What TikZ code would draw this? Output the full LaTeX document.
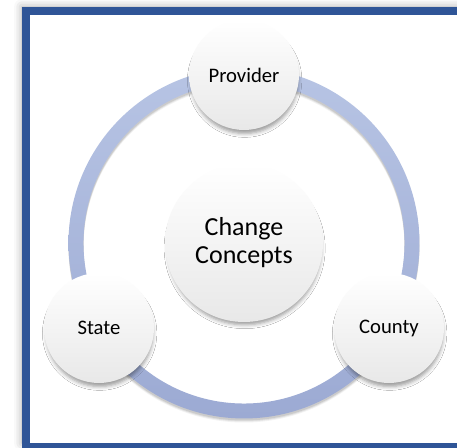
\documentclass[tikz,border=0pt]{standalone}
\usepackage{fontspec}
\setmainfont{Carlito}
\usetikzlibrary{calc,shadows.blur}
\definecolor{framecol}{HTML}{2F5597}
\definecolor{ringtop}{HTML}{B7C4E4}
\definecolor{ringbot}{HTML}{9CAAD3}
\begin{document}
\begin{tikzpicture}[x=0.75pt, y=-0.75pt,
		ball/.style={circle, inner sep=0pt, align=center, top color=white, bottom color=black!9,
			blur shadow={shadow xshift=0.5pt, shadow yshift=-4pt, shadow scale=0.97, shadow blur radius=3pt, shadow opacity=40}},
		actor/.style={ball, minimum size=82.5pt, font=\fontsize{15.5}{18}\selectfont},
		hub/.style={ball, minimum size=118.5pt, font=\fontsize{19.5}{21}\selectfont}]
		\useasboundingbox (0,0) rectangle (457,448);
		% frame
		\draw[framecol, line width=6pt, fill=white,
			blur shadow={shadow xshift=-3pt, shadow yshift=3pt, shadow blur radius=6pt, shadow opacity=35}]
			(26,11) rectangle (480,447);
		\coordinate (mid) at (244,243);
		% ring and its shadow
		\foreach \s/\o in {4/0.05, 3/0.07, 2/0.09}
			\draw[black, opacity=\o, line width=11.25pt] ($(mid)+(0,\s)$) circle[radius=126pt];
		\shade[top color=ringtop, bottom color=ringbot, even odd rule]
			(mid) circle[radius=131.6pt] (mid) circle[radius=120.4pt];
		\node[hub] (C) at (mid) {Change\\Concepts};
		\node[actor] (P) at (244,75) {Provider};
		\node[actor] (S) at (99,328) {State};
		\node[actor] (K) at (389,328) {County};
	\end{tikzpicture}
\end{document}
